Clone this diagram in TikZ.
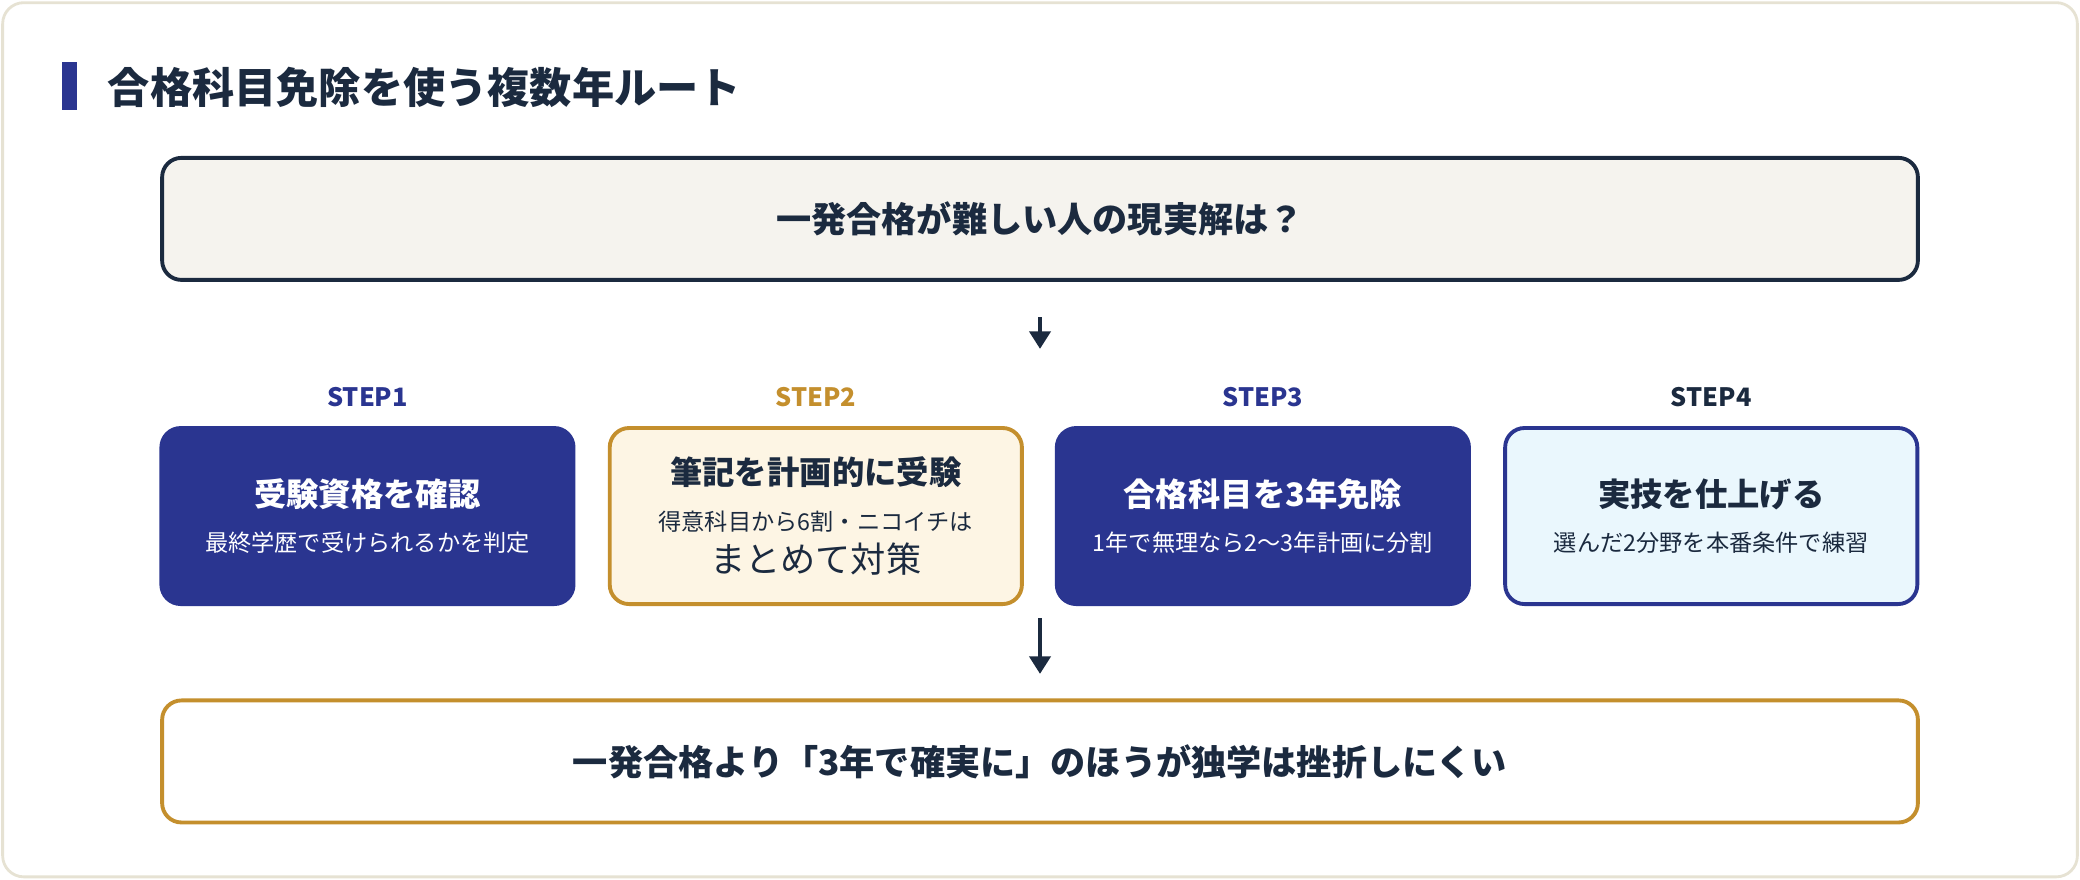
\documentclass[tikz,border=0pt]{standalone}
\usepackage{fontspec}
\setmainfont{Noto Sans CJK JP}
\usetikzlibrary{positioning,arrows.meta}
\definecolor{navy}{HTML}{1B2A3F}
\definecolor{stepblue}{HTML}{2A3590}
\definecolor{gold}{HTML}{C48F2D}
\definecolor{cream}{HTML}{FDF5E4}
\definecolor{paleblue}{HTML}{EAF7FD}
\definecolor{topfill}{HTML}{F5F3EE}
\definecolor{frame}{HTML}{E6E2D3}
\tikzset{
  steplabel/.style={font=\bfseries\fontsize{7.2}{8}\selectfont},
  card/.style={rounded corners=5.5pt, line width=1.1pt, minimum width=4.12cm, minimum height=1.76cm, align=center},
  wide/.style={rounded corners=5.5pt, line width=1.1pt, minimum width=17.55cm, minimum height=1.22cm, font=\bfseries\fontsize{10}{12}\selectfont},
  arr/.style={-{Triangle[length=5pt,width=6pt]}, line width=1.1pt, navy}
}
\newcommand{\cardtext}[2]{{\bfseries\fontsize{9.2}{11}\selectfont #1}\\[1pt]\fontsize{6.6}{9}\selectfont #2}
\begin{document}
\begin{tikzpicture}[x=0.013265cm,y=-0.013265cm]
  \useasboundingbox (0,0) rectangle (1568,663);
  \draw[frame, fill=white, rounded corners=6pt, line width=0.8pt] (2,2) rectangle (1566,661);
  \fill[stepblue] (47,47) rectangle (58,83);
  \node[anchor=west, navy, font=\bfseries\fontsize{12}{14}\selectfont] (title) at (72,66) {合格科目免除を使う複数年ルート};

  \node[wide, draw=navy, fill=topfill, text=navy] (q) at (784,165) {一発合格が難しい人の現実解は？};

  % steps
  \node[card, fill=stepblue, draw=stepblue, text=white] (s1) at (277,389) {\cardtext{受験資格を確認}{最終学歴で受けられるかを判定}};
  \node[card, fill=cream, draw=gold, text=navy] (s2) at (615,389) {\cardtext{筆記を計画的に受験}{得意科目から6割・ニコイチは\\まとめて対策}};
  \node[card, fill=stepblue, draw=stepblue, text=white] (s3) at (952,389) {\cardtext{合格科目を3年免除}{1年で無理なら2〜3年計画に分割}};
  \node[card, fill=paleblue, draw=stepblue, text=navy] (s4) at (1290,389) {\cardtext{実技を仕上げる}{選んだ2分野を本番条件で練習}};

  \node[steplabel, stepblue] (l1) at (277,299) {STEP1};
  \node[steplabel, gold] (l2) at (615,299) {STEP2};
  \node[steplabel, stepblue] (l3) at (952,299) {STEP3};
  \node[steplabel, navy] (l4) at (1290,299) {STEP4};

  \node[wide, draw=gold, fill=white, text=navy] (goal) at (784,574) {一発合格より「3年で確実に」のほうが独学は挫折しにくい};

  \coordinate (a1) at (784,263);
  \coordinate (b0) at (784,466);
  \coordinate (b1) at (784,508);
  \draw[arr] ([yshift=-10]q.south) -- (a1);
  \draw[arr] (b0) -- (b1);
\end{tikzpicture}
\end{document}
